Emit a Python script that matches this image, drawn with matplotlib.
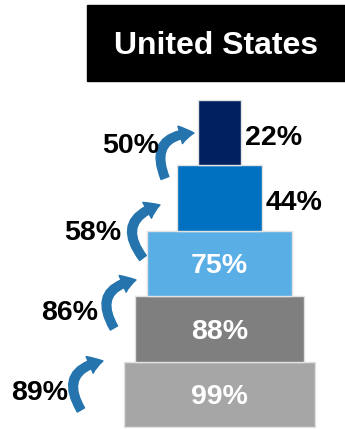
import matplotlib.pyplot as plt
from matplotlib.patches import Rectangle, FancyArrowPatch

# funnel levels, bottom to top
levels = [0, 1, 2, 3, 4]
values = [99, 88, 75, 44, 22]
bar_colors = ['#A6A6A6', '#7F7F7F', '#5AAEE6', '#0070C0', '#002060']
label_inside = [True, True, True, False, False]

# step-to-step conversion, bottom to top
conversion = [89, 86, 58, 50]

title = 'United States'

plt.rcParams['font.family'] = ['Liberation Sans', 'DejaVu Sans']

fig = plt.figure(figsize=(3.45, 4.29), dpi=100)
ax = fig.add_axes([0, 0, 1, 1])
ax.set_xlim(-114.0, 65.2)
ax.set_ylim(-0.031, 6.529)
ax.axis('off')

# pixel -> data helper for the annotation layout
def px(xp, yp):
    return ((xp - 219.5) / 1.925, (427 - yp) / 65.4)

ax.barh(levels, values, left=[-v / 2 for v in values], height=1, align='edge',
        color=bar_colors, edgecolor='#E2E2E2', linewidth=1)

for lvl, v, inside in zip(levels, values, label_inside):
    if inside:
        ax.text(0, lvl + 0.5, f'{v}%', ha='center', va='center_baseline',
                color='white', fontsize=20.5, fontweight='bold')
    else:
        ax.annotate(f'{v}%', (v / 2, lvl + 0.5), xytext=(3, -1.5),
                    textcoords='offset points', ha='left', va='center_baseline',
                    color='black', fontsize=20.5, fontweight='bold')

# curved arrows between levels (tail, head, label centre in pixels)
arrow_layout = [
    ((81, 410), (103, 361), (40, 390)),
    ((114, 328), (136, 280), (70, 310)),
    ((143, 258), (160, 205), (93, 230)),
    ((165, 178), (194, 133), (131, 143)),
]
for c, (tail, head, lab) in zip(conversion, arrow_layout):
    arr = FancyArrowPatch(px(*tail), px(*head),
                          arrowstyle='simple,head_length=10,head_width=13,tail_width=6',
                          connectionstyle='arc3,rad=-0.7', color='#2574AE',
                          shrinkA=0, shrinkB=0, mutation_scale=1)
    ax.add_patch(arr)
    ax.text(*px(*lab), f'{c}%', ha='center', va='center_baseline',
            color='black', fontsize=20.5, fontweight='bold')

# title box
fig.add_artist(Rectangle((87 / 345, 1 - 81 / 429), 258 / 345, 76 / 429,
                         transform=fig.transFigure, color='black'))
fig.text(216 / 345, 1 - 43 / 429, title, ha='center', va='center_baseline',
         color='white', fontsize=23, fontweight='bold')

fig.savefig('out.png', dpi=100)
